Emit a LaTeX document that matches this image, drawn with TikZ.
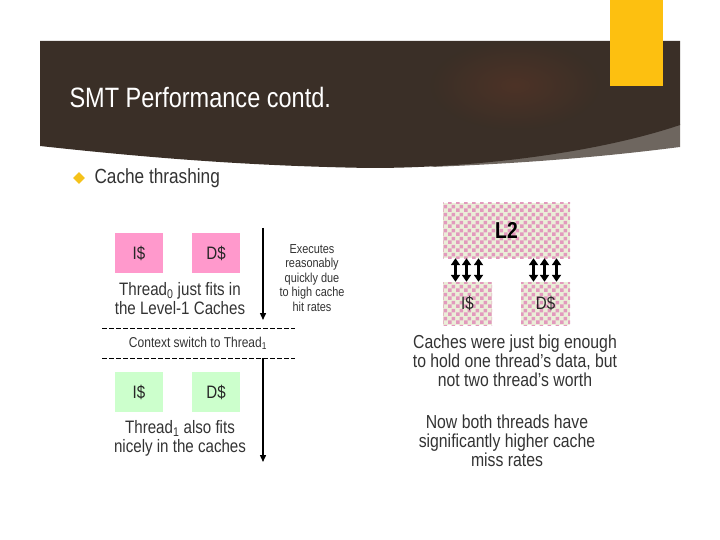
\documentclass[tikz,border=0pt]{standalone}
\usepackage{fontspec}
\setmainfont{Liberation Sans}[FakeStretch=0.84]
\usetikzlibrary{arrows.meta, patterns.meta, fadings, shapes.geometric, positioning}
\definecolor{band}{HTML}{3A2F27}
\definecolor{bandl}{HTML}{6E665F}
\definecolor{glow}{HTML}{5A3526}
\definecolor{gold}{HTML}{FDC010}
\definecolor{gem}{HTML}{F5C21A}
\definecolor{txt}{HTML}{333333}
\definecolor{pk}{HTML}{FF99CC}
\definecolor{gr}{HTML}{CCFFCC}
\definecolor{chkp}{HTML}{E299BD}
\definecolor{chkc}{HTML}{EBEED8}
\tikzfading[name=glowfade, inner color=transparent!0, outer color=transparent!100]
\tikzdeclarepattern{name=chk, type=uncolored,
  bounding box={(0pt,0pt) and (8pt,8pt)}, tile size={(8pt,8pt)},
  code={\fill (0pt,0pt) rectangle (4pt,4pt); \fill (4pt,4pt) rectangle (8pt,8pt);}}
\tikzset{cbox/.style={minimum width=48pt, minimum height=40pt, inner sep=0pt, text=black!85, font=\fontsize{18}{21}\selectfont},
  chkbox/.style={cbox, fill=chkc, postaction={pattern=chk, pattern color=chkp}},
  lbl/.style={align=center, text=txt, font=\fontsize{18}{19}\selectfont},
  tl/.style={-{Triangle[width=6pt,length=7pt]}, line width=1.4pt},
  dbl/.style={{Triangle[width=9pt,length=7pt]}-{Triangle[width=9pt,length=7pt]}, line width=2.6pt},
  sep/.style={dash pattern=on 4.5pt off 2.5pt, line width=0.7pt}}

\begin{document}
\begin{tikzpicture}[x=1pt, y=-1pt]
  \useasboundingbox (0,0) rectangle (720,540);
  \fill[bandl] (430,167) .. controls (560,162) and (640,152) .. (680,147) -- (680,124) -- cycle;
  \fill[band] (40,41) -- (680,41) -- (680,125) .. controls (600,152) and (480,168) .. (370,168)
     .. controls (250,166) and (150,158) .. (40,146) -- cycle;
  \fill[glow, path fading=glowfade, opacity=0.6] (515,85) ellipse (85 and 45);
  \fill[gold] (610,0) rectangle (663,86);
  \node[anchor=base west, text=white, font=\fontsize{28}{32}\selectfont] (ttl) at (66,108) {SMT Performance contd.};
  \node[diamond, fill=gem, minimum size=12pt, inner sep=0pt] (blt) at (79,178) {};
  \node[anchor=west, text=txt, font=\fontsize{20.5}{24}\selectfont] (sub) at (91,178) {Cache thrashing};
  \node[cbox, fill=pk] (i0) at (139,253) {I\$};
  \node[cbox, fill=pk] (d0) at (216,253) {D\$};
  \node[lbl] (t0) at (180,298.5) {Thread\textsubscript{0} just fits in\\the Level-1 Caches};
  \node[lbl, font=\fontsize{13}{14.5}\selectfont] (ex) at (312,278) {Executes\\reasonably\\quickly due\\to high cache\\hit rates};
  \coordinate (a0) at (263,228); \coordinate (b0) at (263,320);
  \coordinate (a1) at (263,358); \coordinate (b1) at (263,462);
  \draw[tl] (a0) -- (b0); \draw[tl] (a1) -- (b1);
  \foreach \y [count=\k] in {328,358}{\coordinate (sl\k) at (102,\y); \coordinate (sr\k) at (295,\y);
     \draw[sep] (sl\k) -- (sr\k);}
  \node[text=txt, font=\fontsize{14.3}{16}\selectfont] (ctx) at (198,343) {Context switch to Thread\textsubscript{1}};
  \node[cbox, fill=gr] (i1) at (139,392) {I\$};
  \node[cbox, fill=gr] (d1) at (216,392) {D\$};
  \node[lbl] (t1) at (180,438.5) {Thread\textsubscript{1} also fits\\nicely in the caches};
  \node[chkbox, minimum width=127pt, minimum height=55pt, text=black, font=\bfseries\fontsize{23}{26}\selectfont] (l2) at (506.5,230.5) {L2};
  \node[chkbox, minimum width=49pt, minimum height=43pt] (l2i) at (467.5,303.5) {I\$};
  \node[chkbox, minimum width=49pt, minimum height=43pt] (l2d) at (545.5,303.5) {D\$};
  \foreach \n in {l2i,l2d}{\foreach \dx in {-12,-1,11}{
     \draw[dbl] ([xshift=\dx pt]\n.north) -- ([xshift=\dx pt]\n.north |- l2.south);}}
  \node[lbl, font=\fontsize{18.8}{19}\selectfont] (cw) at (515,361) {Caches were just big enough\\to hold one thread's data, but\\not two thread's worth};
  \node[lbl, font=\fontsize{18.8}{19}\selectfont] (nb) at (507,441) {Now both threads have\\significantly higher cache\\miss rates};
\end{tikzpicture}
\end{document}
